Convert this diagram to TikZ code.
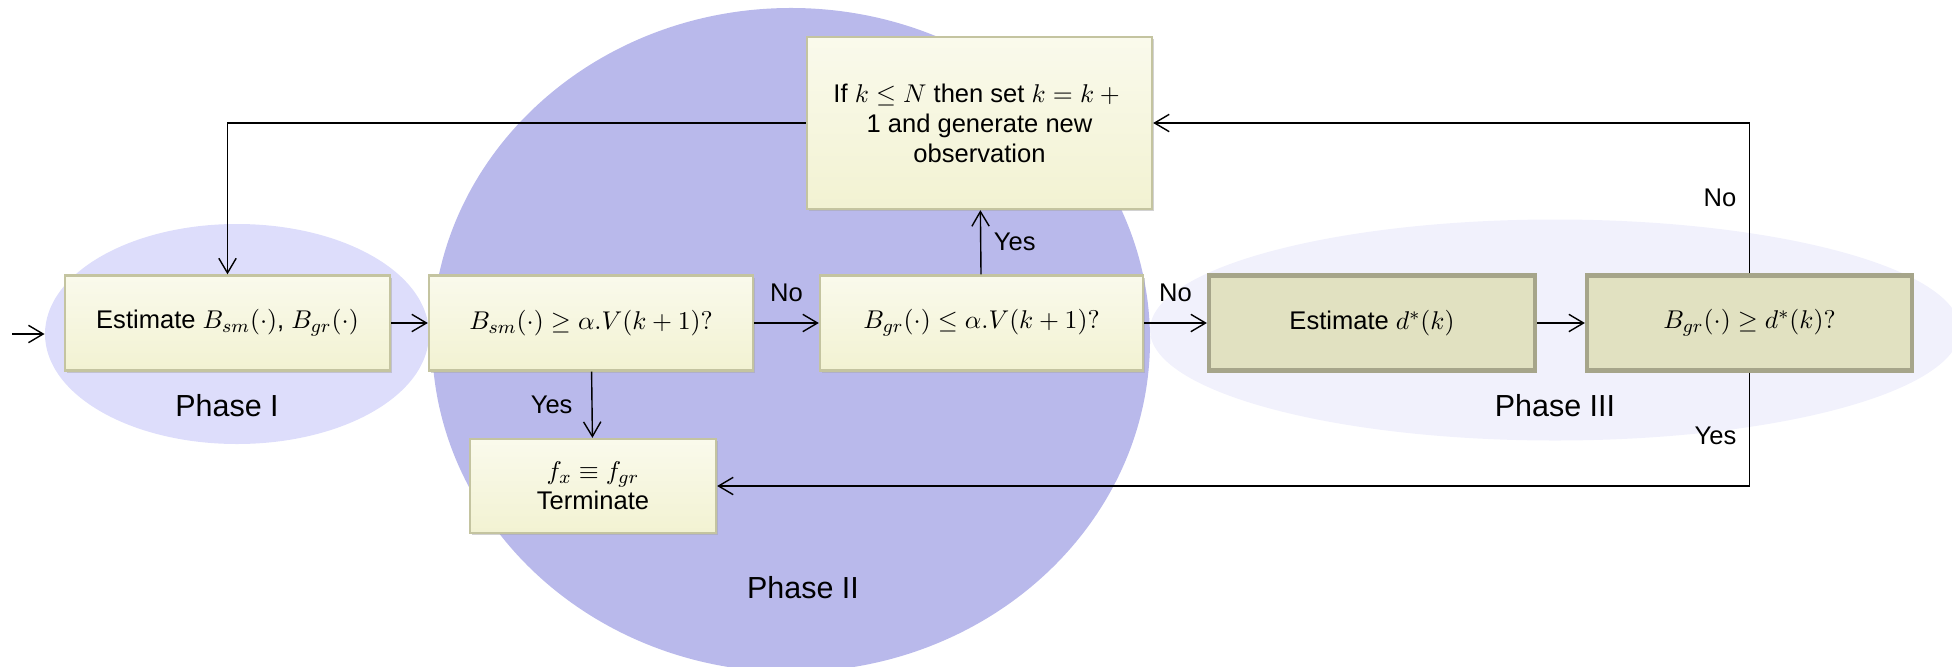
\documentclass[tikz,border=0pt]{standalone}
\usepackage{amsmath,amssymb}
\usepackage[no-math]{fontspec}
\setmainfont{Liberation Sans}
\usepackage{xcolor}
\usetikzlibrary{arrows.meta,positioning,shapes.geometric,shadows}

\definecolor{phaseIfill}{RGB}{221,221,251}
\definecolor{phaseIIfill}{RGB}{185,185,235}
\definecolor{phaseIIIfill}{RGB}{241,241,252}
\definecolor{boxtop}{RGB}{250,250,236}
\definecolor{boxbot}{RGB}{242,242,210}
\definecolor{boxline}{RGB}{196,196,160}
\definecolor{olivefill}{RGB}{225,225,193}
\definecolor{oliveline}{RGB}{166,165,138}

\newcommand{\boxfont}{\fontsize{10.9}{12.8}\selectfont}
\newcommand{\phasefont}{\fontsize{13}{15.6}\selectfont}

\tikzset{
  stepbox/.style={
    draw=boxline,
    line width=1pt,
    top color=boxtop,
    bottom color=boxbot,
    align=center,
    inner sep=2pt,
    drop shadow={shadow xshift=0.8pt, shadow yshift=-1pt, fill=black!35, opacity=0.5}
  },
  phasebox/.style={
    draw=oliveline,
    line width=1.8pt,
    fill=olivefill,
    align=center,
    inner sep=2pt
  },
  rowbox/.style={minimum height=1.425cm},
  phase/.style={ellipse, inner sep=0pt},
  phaselabel/.style={font=\phasefont},
  flow/.style={-{Straight Barb[length=2.2mm,width=2.6mm]}, line width=0.6pt}
}

\begin{document}
\begin{tikzpicture}[
  x=0.015cm, y=-0.015cm,
  every node/.style={font=\boxfont}
]
\useasboundingbox (0,0) rectangle (1952,666);

% phase regions
\node[phase, fill=phaseIIIfill, minimum width=12.15cm, minimum height=3.315cm] (phaseIII) at (1555,330) {};
\node[phase, fill=phaseIfill, minimum width=5.76cm, minimum height=3.3cm] (phaseI) at (237,334) {};
\node[phase, fill=phaseIIfill, minimum width=10.77cm, minimum height=9.96cm] (phaseII) at (791,340) {};

\node[phaselabel] (labI) at (227,406) {Phase I};
\node[phaselabel] (labII) at (803,588) {Phase II};
\node[phaselabel] (labIII) at (1555,406) {Phase III};

% steps
\node[stepbox, rowbox, minimum width=4.875cm] (est) at (227.5,323) {Estimate $B_{sm}(\cdot)$, $B_{gr}(\cdot)$};
\node[stepbox, rowbox, minimum width=4.86cm] (smtest) at (591,323) {$B_{sm}(\cdot) \geq \alpha.V(k+1)?$};
\node[stepbox, rowbox, minimum width=4.845cm] (grtest) at (981.5,323) {$B_{gr}(\cdot) \leq \alpha.V(k+1)?$};
\node[stepbox, minimum width=5.175cm, minimum height=2.58cm] (update) at (979.5,123) {If $k \leq N$ then set $k = k + {}$\\1 and generate new\\observation};
\node[stepbox, minimum width=3.69cm, minimum height=1.41cm] (term) at (593,486) {$f_x \equiv f_{gr}$\\Terminate};
\node[phasebox, rowbox, minimum width=4.89cm] (dstar) at (1372,323) {Estimate $d^{*}(k)$};
\node[phasebox, rowbox, minimum width=4.875cm] (dtest) at (1749.5,323) {$B_{gr}(\cdot) \geq d^{*}(k)?$};

\coordinate (start) at (12,334);

\draw[flow] (start) -- (phaseI.west);
\draw[flow] (est) -- (smtest);
\draw[flow] (smtest) -- node[above=5.5pt] {No} (grtest);
\draw[flow] (grtest) -- node[above=5.5pt] {No} (dstar);
\draw[flow] (dstar) -- (dtest);
\draw[flow] (smtest) -- node[left=4.7pt] {Yes} (term);
\draw[flow] (grtest) -- node[right=2pt] {Yes} (update);
\draw[flow] (update.west) -| (est.north);
\draw[flow] (dtest.north) |- node[pos=0.25, left=2pt] {No} (update.east);
\draw[flow] (dtest.south) |- node[pos=0.28, left=2pt] {Yes} (term.east);
\end{tikzpicture}
\end{document}
